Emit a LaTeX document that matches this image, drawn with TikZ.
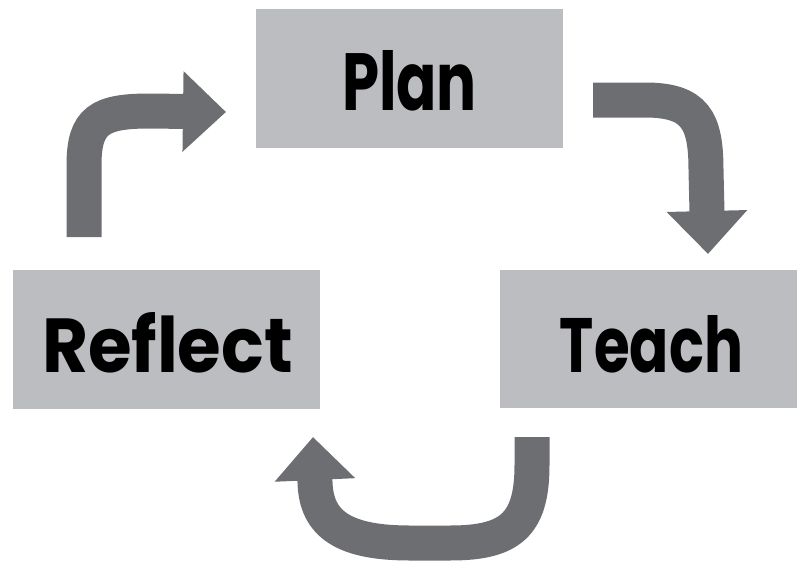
\documentclass[tikz,border=0pt]{standalone}
\usepackage{fontspec}
\setmainfont{Poppins}
\usetikzlibrary{arrows.meta}
\definecolor{boxgray}{HTML}{BCBDC0}
\definecolor{arrowgray}{HTML}{6D6E71}
\begin{document}
\begin{tikzpicture}[x=1pt,y=-1pt,
  stagebox/.style={fill=boxgray,draw=none,inner sep=0pt,anchor=center},
  cyclearrow/.style={draw=arrowgray,line width=35pt,line cap=butt,
    -{Triangle[width=78pt,length=43pt]}},
  lbl/.style={inner sep=0pt,anchor=base}]
\useasboundingbox (0,0) rectangle (798,562);
% boxes
\node[stagebox,minimum width=307pt,minimum height=139pt] (plan) at (409.5,78.5) {};
\node[stagebox,minimum width=307pt,minimum height=139pt] (reflect) at (166.5,339.5) {};
\node[stagebox,minimum width=297pt,minimum height=138pt] (teach) at (648.5,339) {};
% labels
\node[lbl] (planlbl) at (409.5,110) {\resizebox{135pt}{60pt}{\bfseries Plan}};
\node[lbl] (reflectlbl) at (167.5,372) {\resizebox{251pt}{60pt}{\bfseries Reflect}};
\node[lbl] (teachlbl) at (651.5,372) {\resizebox{183pt}{57pt}{\bfseries Teach}};
% arrow end points
\coordinate (a1s) at (84,237);
\coordinate (a1e) at (226,112);
\coordinate (a2s) at (593,100);
\coordinate (a2e) at (708,254);
\coordinate (a3s) at (532,437);
\coordinate (a3e) at (313,437);
% arrows
\draw[cyclearrow] (a1s) -- (84,165) .. controls (84,120) and (100,111) .. (150,111) -- (a1e);
\draw[cyclearrow] (a2s) -- (645,100) .. controls (695,100) and (706,120) .. (706,170) -- (a2e);
\draw[cyclearrow] (a3s) -- (532,465) .. controls (532,525) and (510,543) .. (450,543)
  -- (410,543) .. controls (345,543) and (316,525) .. (315,482) -- (a3e);
\end{tikzpicture}
\end{document}
